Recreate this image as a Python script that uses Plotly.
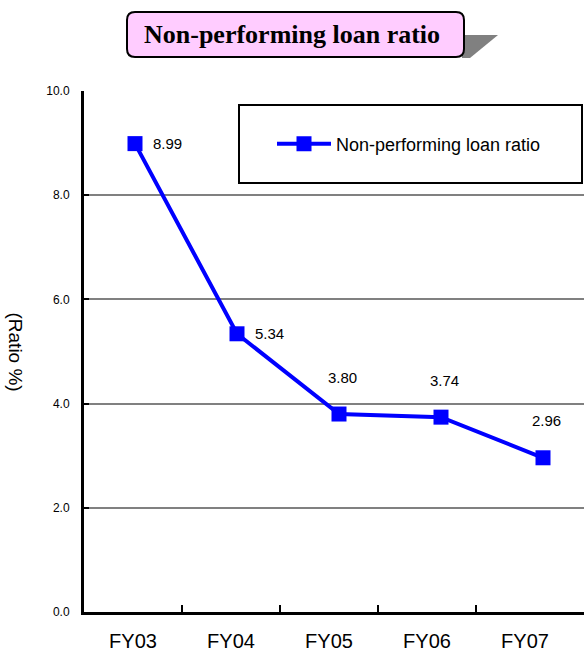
import plotly.graph_objects as go

# ---- data ----
years = ["FY03", "FY04", "FY05", "FY06", "FY07"]
ratio = [8.99, 5.34, 3.80, 3.74, 2.96]
y_tick_vals = [0, 2, 4, 6, 8, 10]
y_tick_text = ["0.0", "2.0", "4.0", "6.0", "8.0", "10.0"]
series_name = "Non-performing loan ratio"
chart_title = "Non-performing loan ratio"
y_title = "(Ratio %)"

# ---- page geometry ----
W, H = 584, 651
L, R, T, B = 84, 0, 91, 39
PW, PH = W - L - R, H - T - B


def px(x):
    """page pixel x -> paper coordinate"""
    return (x - L) / PW


def py(y):
    """page pixel y (from top) -> paper coordinate"""
    return (H - B - y) / PH


idx = list(range(len(years)))
boundaries = [i + 0.5 for i in idx[:-1]]

fig = go.Figure()
# empty trace so the category axis (x/y subplot) gets drawn
fig.add_trace(go.Scatter(x=[], y=[], xaxis="x", yaxis="y", showlegend=False,
                         hoverinfo="skip"))
fig.add_trace(go.Scatter(
    x=idx, y=ratio, xaxis="x2", yaxis="y",
    mode="lines+markers", name=series_name,
    line=dict(color="#0000FF", width=4),
    marker=dict(symbol="square", size=15, color="#0000FF"),
))

# value labels: first two to the right of the point, the rest above it
annotations = []
for i, v in zip(idx, ratio):
    right = i < 2
    annotations.append(dict(
        x=i, y=v, xref="x2", yref="y", text=f"{v:.2f}", showarrow=False,
        xanchor="left" if right else "center", yanchor="middle",
        xshift=16 if right else 3, yshift=0 if right else 37,
        font=dict(family="Liberation Sans, Arial", size=15, color="black"),
    ))

annotations.append(dict(
    x=px(15), y=0.5, xref="paper", yref="paper", text=y_title,
    textangle=90, showarrow=False, xanchor="center", yanchor="middle",
    font=dict(family="Liberation Sans, Arial", size=19, color="black"),
))
annotations.append(dict(
    x=px(292), y=py(34), xref="paper", yref="paper",
    text=f"<b>{chart_title}</b>", showarrow=False,
    xanchor="center", yanchor="middle",
    font=dict(family="Liberation Serif, Times New Roman", size=26, color="black"),
))


def rounded_rect(x0, y0, x1, y1, r):
    X0, X1 = px(x0), px(x1)
    Y0, Y1 = py(y0), py(y1)
    rx, ry = r / PW, r / PH
    return (f"M{X0 + rx},{Y0} L{X1 - rx},{Y0} Q{X1},{Y0} {X1},{Y0 - ry} "
            f"L{X1},{Y1 + ry} Q{X1},{Y1} {X1 - rx},{Y1} "
            f"L{X0 + rx},{Y1} Q{X0},{Y1} {X0},{Y1 + ry} "
            f"L{X0},{Y0 - ry} Q{X0},{Y0} {X0 + rx},{Y0} Z")


shadow = (f"M{px(462)},{py(35)} L{px(498)},{py(35)} "
          f"L{px(470)},{py(58)} L{px(462)},{py(58)} Z")

shapes = [
    dict(type="path", xref="paper", yref="paper", path=shadow,
         fillcolor="#808080", line=dict(width=0), layer="above"),
    dict(type="path", xref="paper", yref="paper",
         path=rounded_rect(127, 12, 464, 57, 8),
         fillcolor="#FFCCFF", line=dict(color="black", width=2), layer="above"),
    dict(type="rect", xref="paper", yref="paper",
         x0=px(239), x1=px(582), y0=py(105), y1=py(183),
         fillcolor="white", line=dict(color="black", width=2), layer="below"),
]

fig.update_layout(
    width=W, height=H,
    margin=dict(l=L, r=R, t=T, b=B, pad=0, autoexpand=False),
    paper_bgcolor="white", plot_bgcolor="white",
    font=dict(family="Liberation Sans, Arial", color="black"),
    showlegend=True,
    legend=dict(
        x=px(272), y=py(144), xanchor="left", yanchor="middle",
        bgcolor="rgba(0,0,0,0)", borderwidth=0,
        font=dict(family="Liberation Sans, Arial", size=18, color="black"),
        itemwidth=54,
    ),
    xaxis=dict(
        range=[-0.5, -0.5 + PW / 98.0], automargin=False,
        tickmode="array", tickvals=idx, ticktext=years, ticks="",
        tickfont=dict(size=20), ticklabelstandoff=9,
        showline=True, linecolor="black", linewidth=3,
        showgrid=False, zeroline=False,
        minor=dict(tickmode="array", tickvals=boundaries, ticks="inside",
                   ticklen=7, tickwidth=2, tickcolor="black", showgrid=False),
    ),
    xaxis2=dict(
        overlaying="x", range=[-0.5, -0.5 + PW / 102.0],
        visible=False, showgrid=False, zeroline=False,
    ),
    yaxis=dict(
        range=[0, 10], tickmode="array", tickvals=y_tick_vals, ticktext=y_tick_text,
        automargin=False,
        ticks="inside", ticklen=5, tickwidth=2, tickcolor="black",
        tickfont=dict(size=12), ticklabelstandoff=9,
        showline=True, linecolor="black", linewidth=3,
        showgrid=True, gridcolor="#808080", gridwidth=2, zeroline=False,
    ),
    annotations=annotations,
    shapes=shapes,
)

fig.write_html("out.html")
